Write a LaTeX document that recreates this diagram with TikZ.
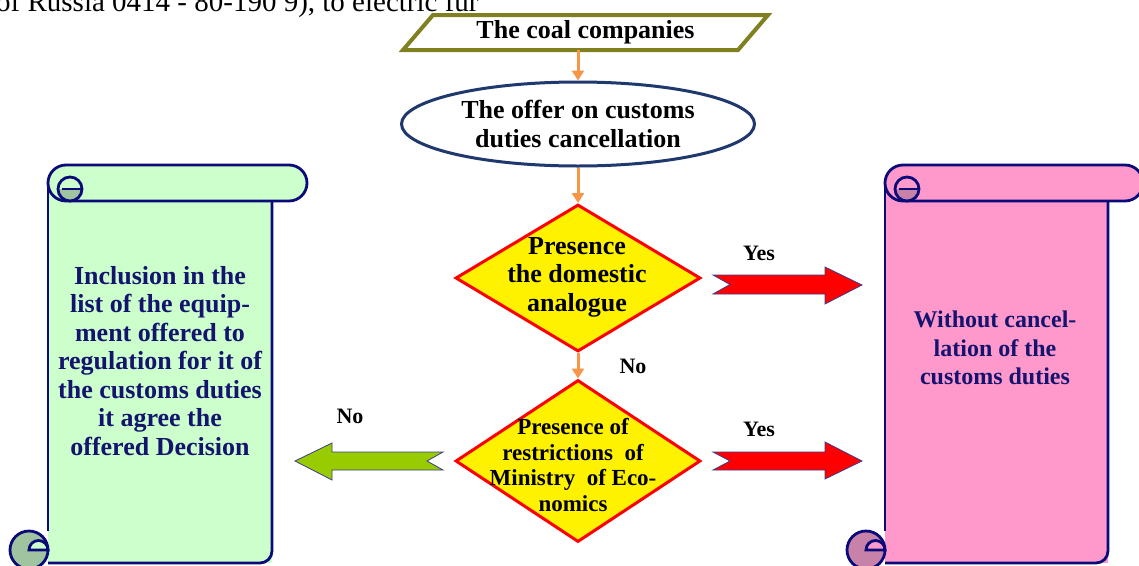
\documentclass[tikz,border=0pt]{standalone}
\usepackage{fontspec}
\setmainfont{Liberation Serif}
\usetikzlibrary{shapes.geometric,arrows.meta}
\definecolor{olivec}{RGB}{128,128,32}
\definecolor{ellb}{RGB}{31,56,110}
\definecolor{orangec}{RGB}{247,150,70}
\definecolor{navyt}{RGB}{20,20,110}
\definecolor{scrollb}{RGB}{10,10,120}
\definecolor{greenfill}{RGB}{204,255,204}
\definecolor{greencurl}{RGB}{160,195,160}
\definecolor{pinkfill}{RGB}{255,153,204}
\definecolor{pinkcurl}{RGB}{200,130,170}
\definecolor{arrgreen}{RGB}{153,204,0}
\definecolor{arrborder}{RGB}{60,60,140}
\newcommand\myscroll[6]{%
  % #1 L, #2 R, #3 T, #4 B, #5 fill, #6 curl fill
  \fill[#5] (#1,#3+18) rectangle (#2,#4);
  \draw[scrollline] (#1,#3+18) -- (#1,531);
  \draw[scrollline, rounded corners=12] (#1,#4) -- (#2,#4) -- (#2,#3+36);
  \filldraw[scrollline, fill=#5, rounded corners=18] (#1,#3) rectangle (#2+35,#3+36);
  \fill[#6] (#1+34,#3+24) arc[start angle=0, end angle=180, radius=12] -- cycle;
  \draw[scrollline] (#1+22,#3+24) circle (12);
  \draw[scrollline] (#1+14,#3+24) -- (#1+34,#3+24);
  \filldraw[scrollline, fill=#6] (#1-19,550) circle (19);
  \filldraw[scrollline, fill=#5] (#1-19,550) arc[start angle=180, end angle=360, radius=9.5] -- cycle;
}
\tikzset{
  scrollline/.style={draw=scrollb, line width=2.8},
  flow/.style={draw=orangec, line width=3, -{Triangle[length=10pt,width=12pt]}},
  lbl/.style={font=\fontsize{22}{24}\selectfont\bfseries, inner sep=0},
  redblock/.style={fill=red, draw=arrborder, line width=0.8},
  greenblock/.style={fill=arrgreen, draw=arrborder, line width=0.8},
  decision/.style={diamond, draw=red, fill=yellow, line width=3, minimum width=245, inner sep=0},
  bigtext/.style={align=center, inner sep=0, font=\fontsize{26}{28.5}\selectfont\bfseries},
  scrolltext/.style={align=center, inner sep=0, text=navyt},
}
\begin{document}
\begin{tikzpicture}[x=1pt,y=-1pt]
\useasboundingbox (0,0) rectangle (1139,565);
\clip (0,0) rectangle (1139,565);
\fill[white] (0,0) rectangle (1139,565);

% fragment of the page text above (cut by the top edge)
\node[anchor=base west, inner sep=0, font=\fontsize{29}{32}\selectfont] (frag) at (-4,11) {of Russia 0414 - 80-190 9), to electric fur};

% scrolls
\myscroll{48}{272}{165}{563}{greenfill}{greencurl}
\myscroll{885}{1108}{165}{563}{pinkfill}{pinkcurl}

\node[scrolltext, font=\fontsize{26}{28.5}\selectfont\bfseries] (incl) at (160,361) {Inclusion in the\\list of the equip-\\ment offered to\\regulation for it of\\the customs duties\\it agree the\\offered Decision};
\node[scrolltext, font=\fontsize{24}{28.5}\selectfont\bfseries] (without) at (995,348) {Without cancel-\\lation of the\\customs duties};

% start box
\filldraw[draw=olivec, line width=4, fill=white] (433,15) -- (768,15) -- (738,50) -- (403,50) -- cycle;
\node[minimum width=300, minimum height=35, inner sep=0, font=\fontsize{26}{28}\selectfont\bfseries] (coal) at (585.5,32.5) {The coal companies};

% ellipse
\node[ellipse, draw=ellb, line width=3, fill=white, minimum width=353, minimum height=84, inner sep=0, bigtext] (offer) at (578,124) {The offer on customs\\duties cancellation};

% decisions
\node[decision, minimum height=147] (d1) at (578,278) {};
\node[bigtext] (d1t) at (577,277) {Presence\\the domestic\\analogue};
\node[decision, minimum height=162] (d2) at (578,461) {};
\node[align=center, inner sep=0, font=\fontsize{23}{25.5}\selectfont\bfseries] (d2t) at (573,465) {Presence of\\restrictions\ \ of\\Ministry\ \ of Eco-\\nomics};

% connectors
\draw[flow] (coal.south -| offer.north) -- (offer.north);
\draw[flow] (offer.south) -- (d1.north);
\draw[flow] (d1.south) -- (d2.north);

% block arrows
\filldraw[redblock] (713,275) -- (825,275) -- (825,267) -- (862,285) -- (825,304) -- (825,294) -- (713,294) -- (730,284.5) -- cycle;
\filldraw[redblock] (713,452) -- (825,452) -- (825,442) -- (862,461) -- (825,479) -- (825,470) -- (713,470) -- (730,461) -- cycle;
\filldraw[greenblock] (443,452) -- (332,452) -- (332,443) -- (295,461) -- (332,480) -- (332,470) -- (443,470) -- (427,461) -- cycle;

% labels
\node[lbl] (yes1) at (759,253) {Yes};
\node[lbl] (yes2) at (759,429) {Yes};
\node[lbl] (no1) at (633,366) {No};
\node[lbl] (no2) at (350,416) {No};
\end{tikzpicture}
\end{document}
